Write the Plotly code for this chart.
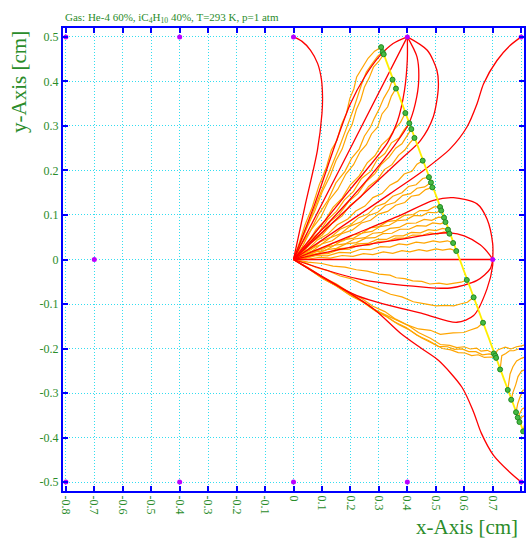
import plotly.graph_objects as go

# ---------------- data (cm) ----------------
x_ticks = [-0.8, -0.7, -0.6, -0.5, -0.4, -0.3, -0.2, -0.1, 0, 0.1, 0.2, 0.3, 0.4, 0.5, 0.6, 0.7, 0.8]
x_tick_text = ["-0.8", "-0.7", "-0.6", "-0.5", "-0.4", "-0.3", "-0.2", "-0.1", "0",
               "0.1", "0.2", "0.3", "0.4", "0.5", "0.6", "0.7", "0.8"]
y_ticks = [-0.5, -0.4, -0.3, -0.2, -0.1, 0, 0.1, 0.2, 0.3, 0.4, 0.5]
y_tick_text = ["-0.5", "-0.4", "-0.3", "-0.2", "-0.1", "0", "0.1", "0.2", "0.3", "0.4", "0.5"]

wire_x = [-0.8, -0.4, 0.0, 0.4, 0.8, -0.8, -0.4, 0.0, 0.4, 0.8, -0.7, 0.7]
wire_y = [0.5, 0.5, 0.5, 0.5, 0.5, -0.5, -0.5, -0.5, -0.5, -0.5, 0.0, 0.0]

track_x = [0.305, 0.81]
track_y = [0.482, -0.390]

dot_x = [0.308, 0.313, 0.317, 0.348, 0.360, 0.393, 0.407, 0.414, 0.425, 0.454, 0.476, 0.483,
         0.488, 0.515, 0.519, 0.529, 0.534, 0.543, 0.548, 0.561, 0.572, 0.609, 0.633, 0.666,
         0.704, 0.709, 0.712, 0.726, 0.753, 0.765, 0.782, 0.788, 0.794, 0.807]
dot_y = [0.477, 0.466, 0.461, 0.404, 0.384, 0.329, 0.306, 0.293, 0.273, 0.222, 0.185, 0.173,
         0.162, 0.118, 0.110, 0.094, 0.084, 0.067, 0.058, 0.037, 0.019, -0.046, -0.085, -0.142,
         -0.211, -0.216, -0.221, -0.247, -0.293, -0.315, -0.343, -0.355, -0.365, -0.386]

# field lines (red), as [x, y] points
field_lines = [
    [[0, 0.5], [0.03, 0.49], [0.06, 0.47], [0.085, 0.44], [0.098, 0.405], [0.102, 0.364],
     [0.1, 0.328], [0.084, 0.245], [0.042, 0.125], [0, 0]],
    [[0, 0], [0.075, 0.125], [0.153, 0.27], [0.2, 0.35], [0.25, 0.41], [0.3, 0.455],
     [0.35, 0.485], [0.4, 0.5]],
    [[0, 0], [0.2, 0.25], [0.4, 0.5]],
    [[0, 0], [0.2, 0.158], [0.33, 0.262], [0.365, 0.31], [0.39, 0.38], [0.4, 0.45], [0.4, 0.5]],
    [[0, 0], [0.2, 0.136], [0.33, 0.235], [0.405, 0.305], [0.428, 0.35], [0.44, 0.402],
     [0.434, 0.455], [0.4, 0.5]],
    [[0, 0], [0.2, 0.12], [0.38, 0.227], [0.446, 0.267], [0.491, 0.32], [0.509, 0.387],
     [0.504, 0.425], [0.47, 0.47], [0.4, 0.5]],
    [[0, 0], [0.34, 0.148], [0.457, 0.2], [0.551, 0.249], [0.609, 0.297], [0.645, 0.35],
     [0.668, 0.395], [0.715, 0.447], [0.76, 0.48], [0.8, 0.5]],
    [[0, 0], [0.2, 0.053], [0.375, 0.099], [0.492, 0.133], [0.562, 0.139], [0.645, 0.125],
     [0.68, 0.091], [0.7, 0.035], [0.7, 0]],
    [[0, 0], [0.2, 0.027], [0.375, 0.045], [0.5, 0.058], [0.55, 0.06], [0.6, 0.053],
     [0.656, 0.033], [0.69, 0.01], [0.7, 0]],
    [[0, 0], [0.35, 0.0], [0.7, 0]],
    [[0, 0], [0.223, -0.043], [0.457, -0.062], [0.551, -0.064], [0.645, -0.047],
     [0.691, -0.021], [0.7, 0]],
    [[0, 0], [0.223, -0.081], [0.457, -0.122], [0.574, -0.141], [0.633, -0.126],
     [0.68, -0.066], [0.7, -0.013], [0.7, 0]],
    [[0, 0], [0.14, -0.053], [0.282, -0.111], [0.375, -0.165], [0.45, -0.2], [0.51, -0.227],
     [0.592, -0.287], [0.633, -0.343], [0.66, -0.39], [0.703, -0.44], [0.76, -0.478], [0.8, -0.5]],
]

# drift lines (orange), as [x, y] points
drift_lines = [
    [[0.308, 0.477], [0.285, 0.468], [0.262, 0.452], [0.24, 0.428], [0.222, 0.41], [0.212, 0.383],
     [0.198, 0.362], [0.186, 0.328], [0.168, 0.302], [0.153, 0.268], [0.133, 0.246], [0.116, 0.208],
     [0.09, 0.167], [0.066, 0.118], [0.04, 0.077], [0.018, 0.033], [0, 0]],
    [[0.313, 0.466], [0.296, 0.457], [0.274, 0.438], [0.256, 0.421], [0.239, 0.393], [0.229, 0.372],
     [0.211, 0.338], [0.196, 0.312], [0.177, 0.278], [0.161, 0.252], [0.139, 0.218], [0.119, 0.187],
     [0.094, 0.148], [0.071, 0.112], [0.044, 0.068], [0.021, 0.032], [0, 0]],
    [[0.317, 0.461], [0.301, 0.446], [0.281, 0.432], [0.266, 0.408], [0.249, 0.387], [0.236, 0.358],
     [0.221, 0.337], [0.206, 0.303], [0.189, 0.282], [0.171, 0.248], [0.149, 0.222], [0.129, 0.188],
     [0.101, 0.152], [0.074, 0.108], [0.051, 0.077], [0.024, 0.034], [0, 0]],
    [[0.348, 0.404], [0.336, 0.383], [0.317, 0.362], [0.301, 0.338], [0.284, 0.317], [0.271, 0.298],
     [0.249, 0.277], [0.231, 0.248], [0.204, 0.227], [0.181, 0.198], [0.149, 0.172], [0.121, 0.133],
     [0.089, 0.102], [0.061, 0.066], [0.029, 0.035], [0, 0]],
    [[0.36, 0.384], [0.344, 0.367], [0.331, 0.343], [0.311, 0.327], [0.296, 0.298], [0.274, 0.282],
     [0.256, 0.258], [0.234, 0.242], [0.211, 0.213], [0.184, 0.192], [0.156, 0.158], [0.124, 0.132],
     [0.096, 0.095], [0.061, 0.066], [0.031, 0.029], [0, 0]],
    [[0.393, 0.329], [0.376, 0.308], [0.354, 0.292], [0.336, 0.273], [0.309, 0.257], [0.286, 0.233],
     [0.259, 0.217], [0.231, 0.188], [0.199, 0.167], [0.171, 0.138], [0.139, 0.117], [0.111, 0.088],
     [0.079, 0.067], [0.051, 0.038], [0.024, 0.021], [0, 0]],
    [[0.407, 0.306], [0.389, 0.292], [0.371, 0.273], [0.344, 0.262], [0.321, 0.238], [0.294, 0.224],
     [0.271, 0.198], [0.239, 0.182], [0.211, 0.153], [0.179, 0.134], [0.151, 0.108], [0.119, 0.089],
     [0.091, 0.062], [0.059, 0.044], [0.031, 0.019], [0, 0]],
    [[0.414, 0.293], [0.397, 0.277], [0.381, 0.26], [0.359, 0.25], [0.336, 0.23], [0.309, 0.214],
     [0.286, 0.193], [0.254, 0.174], [0.226, 0.148], [0.194, 0.13], [0.161, 0.102], [0.129, 0.085],
     [0.101, 0.06], [0.064, 0.042], [0.033, 0.018], [0, 0]],
    [[0.425, 0.273], [0.409, 0.262], [0.391, 0.246], [0.369, 0.234], [0.346, 0.213], [0.319, 0.202],
     [0.296, 0.18], [0.264, 0.164], [0.236, 0.14], [0.199, 0.122], [0.171, 0.098], [0.134, 0.08],
     [0.101, 0.055], [0.064, 0.039], [0.033, 0.016], [0, 0]],
    [[0.454, 0.222], [0.434, 0.214], [0.416, 0.198], [0.389, 0.192], [0.366, 0.176], [0.339, 0.167],
     [0.311, 0.148], [0.279, 0.139], [0.251, 0.12], [0.219, 0.109], [0.191, 0.091], [0.154, 0.078],
     [0.121, 0.057], [0.084, 0.044], [0.051, 0.023], [0.024, 0.013], [0, 0]],
    [[0.476, 0.185], [0.454, 0.182], [0.431, 0.168], [0.404, 0.164], [0.381, 0.15], [0.349, 0.142],
     [0.321, 0.126], [0.289, 0.119], [0.261, 0.102], [0.229, 0.094], [0.201, 0.078], [0.164, 0.068],
     [0.131, 0.05], [0.094, 0.04], [0.061, 0.022], [0.029, 0.013], [0, 0]],
    [[0.483, 0.173], [0.461, 0.163], [0.434, 0.16], [0.411, 0.148], [0.384, 0.144], [0.356, 0.128],
     [0.324, 0.122], [0.296, 0.106], [0.264, 0.099], [0.236, 0.084], [0.199, 0.075], [0.166, 0.058],
     [0.129, 0.049], [0.096, 0.033], [0.059, 0.024], [0.031, 0.009], [0, 0]],
    [[0.488, 0.162], [0.464, 0.157], [0.441, 0.145], [0.414, 0.142], [0.391, 0.128], [0.359, 0.122],
     [0.331, 0.108], [0.299, 0.102], [0.271, 0.088], [0.239, 0.082], [0.206, 0.066], [0.169, 0.058],
     [0.136, 0.042], [0.099, 0.035], [0.066, 0.019], [0.031, 0.012], [0, 0]],
    [[0.515, 0.118], [0.494, 0.118], [0.471, 0.11], [0.444, 0.11], [0.421, 0.101], [0.389, 0.099],
     [0.361, 0.088], [0.329, 0.085], [0.301, 0.074], [0.269, 0.071], [0.241, 0.059], [0.209, 0.055],
     [0.176, 0.042], [0.139, 0.037], [0.106, 0.024], [0.069, 0.02], [0.036, 0.008], [0, 0]],
    [[0.519, 0.11], [0.501, 0.105], [0.474, 0.106], [0.451, 0.098], [0.424, 0.099], [0.396, 0.089],
     [0.364, 0.087], [0.336, 0.077], [0.304, 0.074], [0.276, 0.063], [0.244, 0.06], [0.211, 0.048],
     [0.174, 0.044], [0.141, 0.031], [0.104, 0.027], [0.071, 0.015], [0.034, 0.01], [0, 0]],
    [[0.529, 0.094], [0.509, 0.095], [0.486, 0.088], [0.459, 0.09], [0.431, 0.082], [0.399, 0.081],
     [0.371, 0.072], [0.339, 0.07], [0.311, 0.061], [0.279, 0.059], [0.251, 0.049], [0.214, 0.046],
     [0.181, 0.035], [0.144, 0.032], [0.111, 0.02], [0.074, 0.017], [0.041, 0.006], [0, 0]],
    [[0.534, 0.084], [0.516, 0.08], [0.489, 0.082], [0.466, 0.075], [0.434, 0.076], [0.406, 0.068],
     [0.374, 0.068], [0.346, 0.059], [0.314, 0.058], [0.286, 0.049], [0.254, 0.048], [0.221, 0.038],
     [0.184, 0.035], [0.151, 0.025], [0.114, 0.022], [0.081, 0.012], [0.039, 0.009], [0, 0]],
    [[0.543, 0.067], [0.524, 0.07], [0.501, 0.065], [0.474, 0.067], [0.446, 0.06], [0.414, 0.061],
     [0.386, 0.053], [0.354, 0.053], [0.326, 0.045], [0.294, 0.045], [0.261, 0.036], [0.224, 0.035],
     [0.191, 0.026], [0.154, 0.024], [0.121, 0.015], [0.079, 0.013], [0.041, 0.004], [0, 0]],
    [[0.548, 0.058], [0.529, 0.062], [0.506, 0.057], [0.479, 0.06], [0.451, 0.054], [0.419, 0.055],
     [0.391, 0.048], [0.359, 0.048], [0.331, 0.041], [0.299, 0.041], [0.266, 0.032], [0.229, 0.032],
     [0.196, 0.023], [0.159, 0.022], [0.121, 0.013], [0.081, 0.012], [0.041, 0.003], [0, 0]],
    [[0.561, 0.037], [0.541, 0.042], [0.514, 0.039], [0.491, 0.042], [0.459, 0.037], [0.431, 0.039],
     [0.399, 0.033], [0.371, 0.035], [0.339, 0.028], [0.306, 0.029], [0.269, 0.022], [0.236, 0.023],
     [0.199, 0.015], [0.161, 0.016], [0.119, 0.008], [0.081, 0.009], [0.039, 0.002], [0, 0]],
    [[0.572, 0.019], [0.551, 0.024], [0.524, 0.021], [0.501, 0.024], [0.469, 0.019], [0.441, 0.022],
     [0.409, 0.017], [0.381, 0.02], [0.349, 0.014], [0.316, 0.017], [0.279, 0.011], [0.246, 0.013],
     [0.209, 0.007], [0.171, 0.009], [0.129, 0.003], [0.091, 0.005], [0.045, 0.0], [0, 0]],
    [[0.609, -0.046], [0.589, -0.051], [0.566, -0.053], [0.539, -0.056], [0.511, -0.053],
     [0.479, -0.055], [0.451, -0.049], [0.419, -0.048], [0.391, -0.043], [0.361, -0.041],
     [0.339, -0.035], [0.301, -0.033], [0.259, -0.026], [0.221, -0.023], [0.181, -0.017],
     [0.139, -0.015], [0.099, -0.009], [0.051, -0.006], [0, 0]],
    [[0.633, -0.085], [0.611, -0.096], [0.586, -0.1], [0.563, -0.104], [0.534, -0.103],
     [0.501, -0.104], [0.457, -0.099], [0.421, -0.095], [0.381, -0.084], [0.341, -0.078],
     [0.301, -0.067], [0.251, -0.057], [0.201, -0.043], [0.164, -0.037], [0.121, -0.025],
     [0.079, -0.018], [0.041, -0.007], [0, 0]],
    [[0.666, -0.142], [0.646, -0.153], [0.619, -0.159], [0.598, -0.164], [0.561, -0.165],
     [0.516, -0.168], [0.481, -0.159], [0.439, -0.156], [0.399, -0.147], [0.361, -0.136],
     [0.319, -0.123], [0.282, -0.112], [0.241, -0.093], [0.199, -0.079], [0.151, -0.059],
     [0.106, -0.044], [0.059, -0.023], [0, 0]],
    [[0.704, -0.211], [0.681, -0.204], [0.659, -0.206], [0.643, -0.199], [0.621, -0.201],
     [0.599, -0.196], [0.574, -0.198], [0.549, -0.193], [0.516, -0.191], [0.481, -0.177],
     [0.439, -0.164], [0.401, -0.147], [0.359, -0.134], [0.321, -0.117], [0.279, -0.105],
     [0.241, -0.088], [0.199, -0.075], [0.151, -0.055], [0.099, -0.038], [0.051, -0.018], [0, 0]],
    [[0.709, -0.216], [0.688, -0.212], [0.664, -0.214], [0.641, -0.207], [0.616, -0.207],
     [0.592, -0.201], [0.566, -0.202], [0.541, -0.196], [0.509, -0.195], [0.474, -0.182],
     [0.434, -0.17], [0.396, -0.153], [0.354, -0.14], [0.316, -0.123], [0.276, -0.11],
     [0.236, -0.092], [0.196, -0.079], [0.146, -0.058], [0.096, -0.04], [0.049, -0.019], [0, 0]],
    [[0.712, -0.221], [0.694, -0.219], [0.671, -0.22], [0.649, -0.214], [0.626, -0.216],
     [0.603, -0.21], [0.579, -0.209], [0.553, -0.203], [0.524, -0.2], [0.489, -0.188],
     [0.449, -0.176], [0.409, -0.159], [0.369, -0.146], [0.329, -0.129], [0.289, -0.116],
     [0.249, -0.097], [0.206, -0.083], [0.156, -0.061], [0.104, -0.043], [0.053, -0.02], [0, 0]],
    [[0.709, -0.216], [0.716, -0.204], [0.726, -0.201], [0.744, -0.197], [0.764, -0.201],
     [0.784, -0.196], [0.801, -0.194], [0.82, -0.19]],
    [[0.726, -0.247], [0.729, -0.234], [0.732, -0.216], [0.746, -0.211], [0.759, -0.205],
     [0.774, -0.205], [0.79, -0.201], [0.82, -0.2]],
    [[0.753, -0.293], [0.758, -0.274], [0.761, -0.257], [0.771, -0.241], [0.784, -0.228],
     [0.801, -0.222], [0.82, -0.218]],
    [[0.765, -0.315], [0.771, -0.299], [0.781, -0.281], [0.789, -0.263], [0.801, -0.251],
     [0.82, -0.245]],
    [[0.782, -0.343], [0.788, -0.324], [0.796, -0.309], [0.806, -0.294], [0.82, -0.29]],
    [[0.788, -0.355], [0.796, -0.344], [0.803, -0.336], [0.82, -0.33]],
    [[0.794, -0.365], [0.801, -0.354], [0.81, -0.351], [0.82, -0.347]],
    [[0.807, -0.386], [0.812, -0.37], [0.82, -0.36]],
]

title_text = "Gas: He-4 60%, iC<sub>4</sub>H<sub>10</sub> 40%, T=293 K, p=1 atm"
x_title = "x-Axis [cm]"
y_title = "y-Axis [cm]"

# ---------------- styling ----------------
GREEN = "#2a8c2a"
BLUE = "#0000ff"
GRID = "#33ddf0"
SERIF = "Liberation Serif, Times New Roman, serif"

fig = go.Figure()

for path in drift_lines:
    fig.add_trace(go.Scatter(x=[p[0] for p in path], y=[p[1] for p in path], mode="lines",
                             line=dict(color="#ffa500", width=1.2), hoverinfo="skip",
                             showlegend=False))

for path in field_lines:
    fig.add_trace(go.Scatter(x=[p[0] for p in path], y=[p[1] for p in path], mode="lines",
                             line=dict(color="#ff0000", width=1.3, shape="spline", smoothing=0.8),
                             hoverinfo="skip", showlegend=False))

fig.add_trace(go.Scatter(x=track_x, y=track_y, mode="lines",
                         line=dict(color="#ffee00", width=1.8), showlegend=False))

fig.add_trace(go.Scatter(x=dot_x, y=dot_y, mode="markers",
                         marker=dict(color="#44bb44", size=5, line=dict(color="#228822", width=1)),
                         showlegend=False))

fig.add_trace(go.Scatter(x=wire_x, y=wire_y, mode="markers",
                         marker=dict(color="#bb00ff", size=5, symbol="circle"),
                         cliponaxis=False, showlegend=False))

axis_common = dict(showline=True, linecolor=BLUE, linewidth=2, mirror="ticks",
                   ticks="inside", ticklen=5, tickwidth=2, tickcolor=BLUE,
                   showgrid=True, gridcolor=GRID, griddash="1px,2px", gridwidth=1,
                   zeroline=False, automargin=False,
                   tickfont=dict(family=SERIF, size=12, color=GREEN))

fig.update_xaxes(range=[-0.81, 0.81], tickvals=x_ticks, ticktext=x_tick_text, tickangle=90,
                 **axis_common)
fig.update_yaxes(range=[-0.52, 0.52], tickvals=y_ticks, ticktext=y_tick_text, **axis_common)

fig.update_layout(
    template="none",
    width=526, height=543, autosize=False,
    margin=dict(l=63, r=2, t=28, b=52),
    paper_bgcolor="white", plot_bgcolor="white",
    annotations=[
        dict(text=title_text, xref="paper", yref="paper", x=0, y=1.003, xanchor="left",
             yanchor="bottom", showarrow=False, font=dict(family=SERIF, size=11, color=GREEN)),
        dict(text=x_title, xref="paper", yref="paper", x=0.992, y=-0.078, xanchor="right",
             yanchor="middle", showarrow=False, font=dict(family=SERIF, size=21, color=GREEN)),
        dict(text=y_title, xref="paper", yref="paper", x=-0.095, y=0.884, xanchor="center",
             yanchor="middle", textangle=-90, showarrow=False,
             font=dict(family=SERIF, size=21, color=GREEN)),
    ],
)

# remove the page's default body margin so the figure sits at the window's corner
fig.write_html("out.html", config={"displayModeBar": False},
               post_script="document.body.style.margin='0px';document.body.style.overflow='hidden';")
